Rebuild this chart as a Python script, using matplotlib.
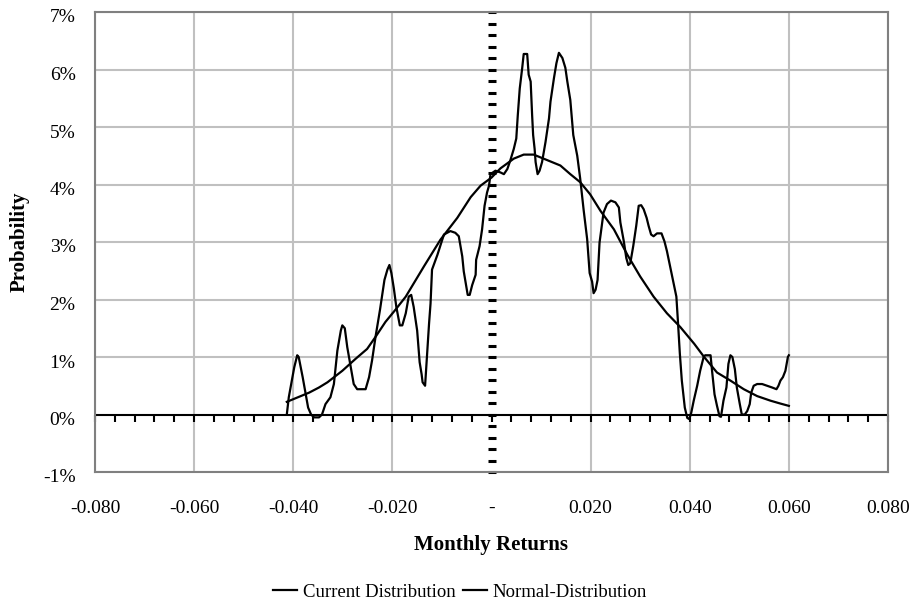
import numpy as np
import matplotlib
matplotlib.use('Agg')
import matplotlib.pyplot as plt
import matplotlib.transforms as mtransforms
from matplotlib.ticker import FuncFormatter

plt.rcParams['font.family'] = ['Liberation Serif', 'DejaVu Serif']

# observed distribution: (monthly return, probability %)
current = [
    (-0.0413, 0.00), (-0.0409, 0.30), (-0.0398, 0.82), (-0.0392, 1.03), (-0.0389, 1.00),
    (-0.0381, 0.65), (-0.0370, 0.12), (-0.0364, 0.00), (-0.0358, -0.05), (-0.0348, -0.05),
    (-0.0342, 0.00), (-0.0335, 0.18), (-0.0325, 0.30), (-0.0318, 0.53), (-0.0311, 1.11),
    (-0.0304, 1.46), (-0.0301, 1.55), (-0.0296, 1.50), (-0.0291, 1.17), (-0.0284, 0.82),
    (-0.0278, 0.53), (-0.0271, 0.44), (-0.0254, 0.44), (-0.0247, 0.65), (-0.0241, 0.94),
    (-0.0234, 1.35), (-0.0225, 1.82), (-0.0220, 2.11), (-0.0216, 2.34), (-0.0210, 2.52),
    (-0.0206, 2.60), (-0.0202, 2.46), (-0.0197, 2.19), (-0.0192, 1.87), (-0.0185, 1.55),
    (-0.0180, 1.55), (-0.0173, 1.76), (-0.0167, 2.05), (-0.0162, 2.08), (-0.0157, 1.87),
    (-0.0150, 1.46), (-0.0145, 0.91), (-0.0141, 0.70), (-0.0139, 0.56), (-0.0134, 0.50),
    (-0.0131, 0.91), (-0.0126, 1.58), (-0.0123, 1.93), (-0.0120, 2.52), (-0.0109, 2.78),
    (-0.0096, 3.13), (-0.0083, 3.19), (-0.0073, 3.16), (-0.0066, 3.10), (-0.0059, 2.75),
    (-0.0056, 2.49), (-0.0048, 2.08), (-0.0044, 2.08), (-0.0039, 2.25), (-0.0032, 2.43),
    (-0.0031, 2.69), (-0.0024, 2.93), (-0.0019, 3.22), (-0.0014, 3.63), (-0.0009, 3.86),
    (-0.0005, 3.98), (-0.0002, 4.18), (0.0008, 4.24), (0.0018, 4.21), (0.0025, 4.18),
    (0.0032, 4.27), (0.0038, 4.42), (0.0045, 4.62), (0.0050, 4.80), (0.0053, 5.20),
    (0.0057, 5.67), (0.0062, 6.03), (0.0065, 6.27), (0.0072, 6.27), (0.0075, 5.91),
    (0.0079, 5.79), (0.0082, 5.20), (0.0084, 4.86), (0.0087, 4.62), (0.0089, 4.39),
    (0.0093, 4.18), (0.0097, 4.24), (0.0102, 4.39), (0.0109, 4.74), (0.0116, 5.15),
    (0.0119, 5.44), (0.0126, 5.85), (0.0131, 6.11), (0.0136, 6.29), (0.0143, 6.20),
    (0.0149, 6.03), (0.0153, 5.79), (0.0159, 5.47), (0.0165, 4.86), (0.0173, 4.50),
    (0.0179, 4.10), (0.0186, 3.55), (0.0193, 3.05), (0.0198, 2.46), (0.0203, 2.31),
    (0.0206, 2.11), (0.0210, 2.17), (0.0214, 2.34), (0.0218, 2.99), (0.0226, 3.51),
    (0.0233, 3.66), (0.0241, 3.72), (0.0250, 3.69), (0.0257, 3.60), (0.0260, 3.34),
    (0.0267, 3.01), (0.0272, 2.72), (0.0276, 2.60), (0.0280, 2.63), (0.0286, 2.93),
    (0.0292, 3.28), (0.0297, 3.63), (0.0302, 3.64), (0.0307, 3.57), (0.0313, 3.42),
    (0.0317, 3.28), (0.0322, 3.13), (0.0327, 3.10), (0.0334, 3.15), (0.0343, 3.15),
    (0.0349, 3.01), (0.0354, 2.84), (0.0359, 2.63), (0.0366, 2.34), (0.0373, 2.05),
    (0.0376, 1.64), (0.0380, 1.06), (0.0384, 0.59), (0.0390, 0.12), (0.0395, -0.06),
    (0.0399, -0.08), (0.0403, 0.03), (0.0408, 0.24), (0.0415, 0.50), (0.0421, 0.76),
    (0.0428, 1.00), (0.0431, 1.03), (0.0442, 1.03), (0.0445, 0.76), (0.0450, 0.35),
    (0.0455, 0.15), (0.0460, -0.03), (0.0463, -0.04), (0.0468, 0.24), (0.0474, 0.47),
    (0.0478, 0.88), (0.0482, 1.03), (0.0486, 1.00), (0.0491, 0.79), (0.0495, 0.47),
    (0.0501, 0.18), (0.0505, 0.00), (0.0511, 0.00), (0.0516, 0.06), (0.0521, 0.18),
    (0.0524, 0.38), (0.0529, 0.50), (0.0536, 0.53), (0.0546, 0.53), (0.0556, 0.50),
    (0.0566, 0.47), (0.0575, 0.44), (0.0579, 0.50), (0.0583, 0.59), (0.0588, 0.65),
    (0.0593, 0.76), (0.0598, 1.00), (0.0600, 1.03),
]

# fitted normal curve: (monthly return, probability %)
normal = [
    (-0.0413, 0.22), (-0.0368, 0.38), (-0.0348, 0.47), (-0.0331, 0.56), (-0.0301, 0.76),
    (-0.0274, 0.97), (-0.0251, 1.14), (-0.0234, 1.35), (-0.0214, 1.61), (-0.0194, 1.82),
    (-0.0173, 2.05), (-0.0136, 2.58), (-0.0103, 3.04), (-0.0069, 3.42), (-0.0042, 3.78),
    (-0.0022, 3.98), (0.0000, 4.12), (0.0018, 4.28), (0.0045, 4.45), (0.0065, 4.52),
    (0.0085, 4.52), (0.0105, 4.45), (0.0139, 4.33), (0.0159, 4.18), (0.0179, 4.04),
    (0.0199, 3.83), (0.0220, 3.54), (0.0247, 3.22), (0.0274, 2.78), (0.0300, 2.40),
    (0.0327, 2.05), (0.0354, 1.76), (0.0381, 1.52), (0.0409, 1.23), (0.0429, 1.00),
    (0.0455, 0.73), (0.0482, 0.59), (0.0509, 0.44), (0.0536, 0.32), (0.0563, 0.24),
    (0.0583, 0.19), (0.0600, 0.15),
]

current_x, current_y = zip(*current)
normal_x, normal_y = zip(*normal)

x_ticks = [-0.08, -0.06, -0.04, -0.02, 0.0, 0.02, 0.04, 0.06, 0.08]
y_ticks = [-1, 0, 1, 2, 3, 4, 5, 6, 7]


def fmt_x(v, pos):
    if abs(v) < 1e-9:
        return '-'
    return '%.3f' % v


W, H = 917., 606.
fig = plt.figure(figsize=(W / 100, H / 100), dpi=100)
ax = fig.add_axes([95 / W, 1 - 472 / H, 793 / W, 460 / H])

ax.set_xlim(-0.08, 0.08)
ax.set_ylim(-1, 7)
ax.set_xticks(x_ticks)
ax.set_yticks(y_ticks)
ax.xaxis.set_major_formatter(FuncFormatter(fmt_x))
ax.yaxis.set_major_formatter(FuncFormatter(lambda v, p: '%d%%' % v))
ax.tick_params(length=0, labelsize=14)
ax.tick_params(axis='y', pad=14)
ax.tick_params(axis='x', pad=20)

# value labels sit slightly below their gridlines
shift = mtransforms.ScaledTranslation(0, -4 / 100., fig.dpi_scale_trans)
for lab in ax.get_yticklabels():
    lab.set_transform(lab.get_transform() + shift)

ax.grid(True, color='#c0c0c0', linewidth=1.5)
ax.set_axisbelow(True)
# no grey gridline under the dotted zero axis / the black zero line
ax.xaxis.get_gridlines()[4].set_visible(False)
ax.yaxis.get_gridlines()[1].set_visible(False)
for s in ax.spines.values():
    s.set_color('#808080')
    s.set_linewidth(1.5)

# horizontal zero line with tick marks below it
ax.axhline(0, color='black', linewidth=1.5, zorder=2)
minor_x = np.arange(-0.08, 0.0801, 0.004)
ax.plot(minor_x, np.zeros_like(minor_x), linestyle='none', marker=3,
        markersize=5, markeredgewidth=1.5, color='black', clip_on=False, zorder=2)

# dotted vertical axis at zero
minor_y = np.arange(-1, 7.001, 0.2)
ax.plot(np.zeros_like(minor_y), minor_y, linestyle='none', marker='_',
        markersize=6, markeredgewidth=2.2, color='black', clip_on=False, zorder=2)

l1, = ax.plot(current_x, current_y, color='black', linewidth=1.6, zorder=3)
l2, = ax.plot(normal_x, normal_y, color='black', linewidth=1.6, zorder=3)

ax.set_xlabel('Monthly Returns', fontsize=15, fontweight='bold', va='center')
ax.xaxis.set_label_coords(0.5, (472 - 545) / 460.)
ax.set_ylabel('Probability', fontsize=15, fontweight='bold', va='center')
ax.yaxis.set_label_coords((20 - 95) / 793., 0.5)

fig.legend([l1, l2], ['Current Distribution', 'Normal-Distribution'],
           loc='center', bbox_to_anchor=(460 / W, 1 - 592 / H), ncol=2,
           frameon=False, fontsize=13.5, handlelength=1.3, handletextpad=0.3,
           columnspacing=0.4, borderpad=0)

fig.savefig('out.png', dpi=100)
